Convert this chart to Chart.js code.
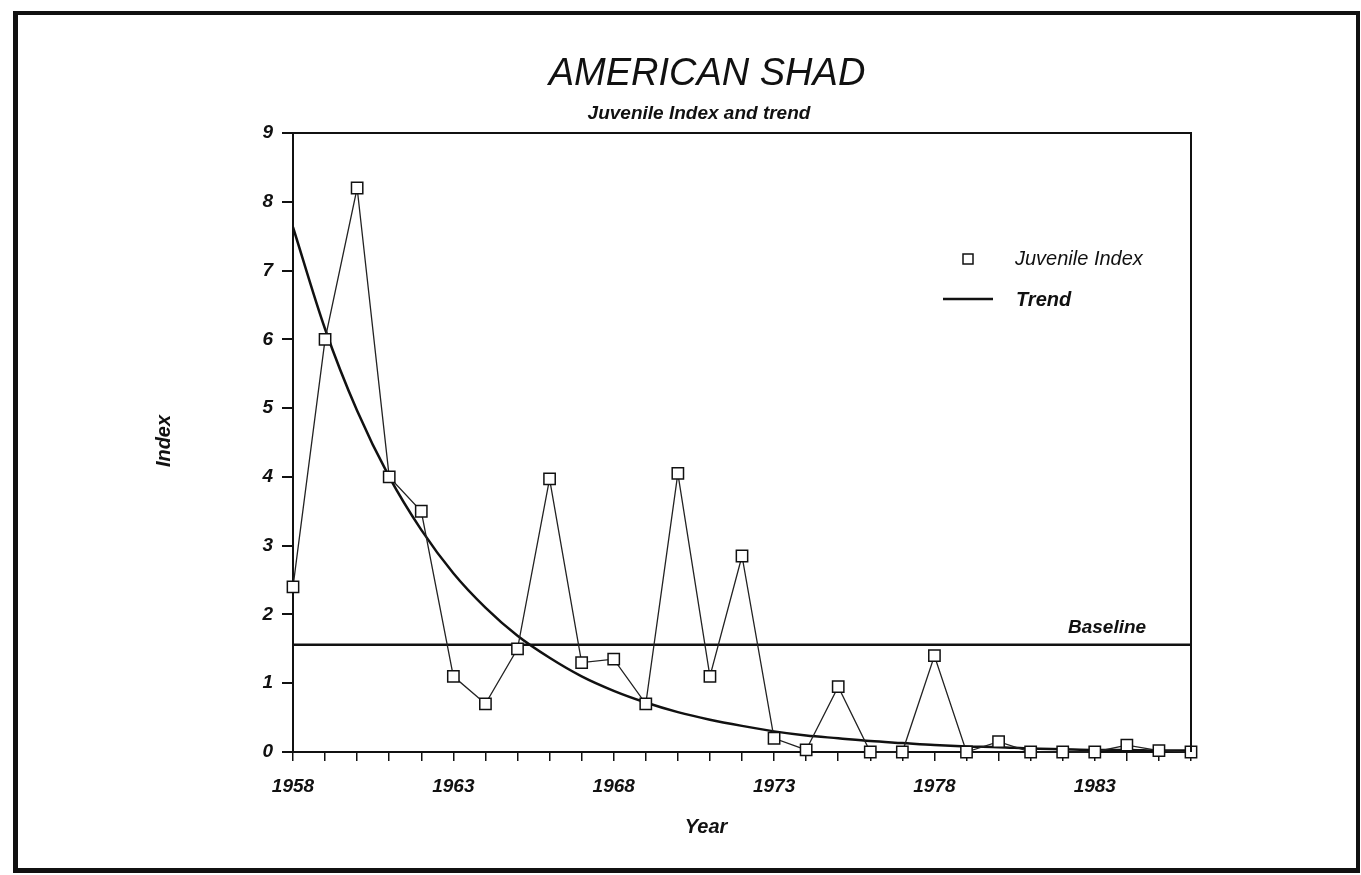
<!DOCTYPE html>
<html>
<head>
<meta charset="utf-8">
<title>American Shad</title>
<script src="https://cdn.jsdelivr.net/npm/chart.js@4.4.0/dist/chart.umd.min.js"></script>
<style>
  html, body { margin: 0; padding: 0; background: #fff; }
  #wrap { position: relative; width: 1361px; height: 875px; }
  #shadChart { display: block; }
  /* 바깥 검은 테두리 */
  #frame {
    position: absolute; left: 13px; top: 11px; width: 1347px; height: 862px;
    box-sizing: border-box; border-style: solid; border-color: #111;
    border-width: 4px 4px 5px 5px; pointer-events: none;
  }
</style>
</head>
<body>
<div id="wrap">
  <canvas id="shadChart" width="1361" height="875"></canvas>
  <div id="frame"></div>
</div>
<script>
// 연도
const years = [1958, 1959, 1960, 1961, 1962, 1963, 1964, 1965, 1966, 1967,
  1968, 1969, 1970, 1971, 1972, 1973, 1974, 1975, 1976, 1977,
  1978, 1979, 1980, 1981, 1982, 1983, 1984, 1985, 1986];
// Juvenile Index 값
const juvenileIndex = [2.4, 6.0, 8.2, 4.0, 3.5, 1.1, 0.7, 1.5, 3.97, 1.3,
  1.35, 0.7, 4.05, 1.1, 2.85, 0.2, 0.03, 0.95, 0, 0,
  1.4, 0, 0.15, 0, 0, 0, 0.1, 0.02, 0];
// Trend 값
const trendValues = [7.63, 6.15, 4.96, 4.0, 3.23, 2.6, 2.1, 1.69, 1.37, 1.1,
  0.89, 0.72, 0.58, 0.47, 0.38, 0.3, 0.24, 0.2, 0.16, 0.13,
  0.1, 0.08, 0.07, 0.05, 0.04, 0.03, 0.03, 0.02, 0.02];
// Baseline
const baselineYears = [1958, 1986];
const baselineValues = [1.56, 1.56];
// 축 눈금
const yTicks = [0, 1, 2, 3, 4, 5, 6, 7, 8, 9];
const xLabelYears = [1958, 1963, 1968, 1973, 1978, 1983];

const fontFamily = "'Liberation Sans', Arial, sans-serif";
Chart.defaults.font.family = fontFamily;
Chart.defaults.color = "#111";

const toPoints = (xs, ys) => xs.map((x, i) => ({ x: x, y: ys[i] }));

// 제목, 축 이름, 범례, Baseline 글자 그리기
const decorPlugin = {
  id: "decor",
  afterDraw(chart) {
    const ctx = chart.ctx;
    const area = chart.chartArea;
    ctx.save();
    // 위쪽, 오른쪽 테두리
    ctx.strokeStyle = "#111";
    ctx.lineWidth = 2;
    ctx.beginPath();
    ctx.moveTo(area.left - 11, area.top);
    ctx.lineTo(area.right, area.top);
    ctx.lineTo(area.right, area.bottom);
    ctx.stroke();

    ctx.fillStyle = "#111";
    ctx.textAlign = "center";
    ctx.textBaseline = "alphabetic";
    ctx.font = `italic 38px ${fontFamily}`;
    ctx.fillText("AMERICAN SHAD", 707, 85);
    ctx.font = `italic bold 19px ${fontFamily}`;
    ctx.fillText("Juvenile Index and trend", 699, 119);

    ctx.font = `italic bold 20px ${fontFamily}`;
    ctx.fillText("Year", 706, 833);
    ctx.save();
    ctx.translate(170, 441);
    ctx.rotate(-Math.PI / 2);
    ctx.fillText("Index", 0, 0);
    ctx.restore();

    // Baseline 글자
    ctx.textAlign = "left";
    ctx.font = `italic bold 19px ${fontFamily}`;
    ctx.fillText("Baseline", 1068, 633);

    // 범례
    ctx.lineWidth = 1.5;
    ctx.fillStyle = "#fff";
    ctx.fillRect(963, 254, 10, 10);
    ctx.strokeRect(963, 254, 10, 10);
    ctx.fillStyle = "#111";
    ctx.font = `italic 20px ${fontFamily}`;
    ctx.fillText("Juvenile Index", 1015, 265);
    ctx.lineWidth = 2.5;
    ctx.beginPath();
    ctx.moveTo(943, 299);
    ctx.lineTo(993, 299);
    ctx.stroke();
    ctx.font = `italic bold 20px ${fontFamily}`;
    ctx.fillText("Trend", 1016, 306);
    ctx.restore();
  },
};

const ctx = document.getElementById("shadChart").getContext("2d");
new Chart(ctx, {
  type: "line",
  data: {
    datasets: [
      {
        label: "Juvenile Index",
        data: toPoints(years, juvenileIndex),
        borderColor: "#222",
        borderWidth: 1.3,
        pointStyle: "rect",
        pointRadius: 8,
        pointBackgroundColor: "#fff",
        pointBorderColor: "#111",
        pointBorderWidth: 1.5,
        tension: 0,
        clip: false,
      },
      {
        label: "Trend",
        data: toPoints(years, trendValues),
        borderColor: "#111",
        borderWidth: 2.5,
        pointRadius: 0,
        cubicInterpolationMode: "monotone",
      },
      {
        label: "Baseline",
        data: toPoints(baselineYears, baselineValues),
        borderColor: "#111",
        borderWidth: 2.5,
        pointRadius: 0,
      },
    ],
  },
  options: {
    responsive: false,
    animation: false,
    layout: { padding: { left: 200, right: 170, top: 133, bottom: 73 } },
    plugins: {
      legend: { display: false },
      title: { display: false },
      tooltip: { enabled: false },
    },
    scales: {
      x: {
        type: "linear",
        min: years[0],
        max: years[years.length - 1],
        afterFit: (axis) => { axis.height = 50; },
        ticks: {
          stepSize: 1,
          maxTicksLimit: 40,
          autoSkip: false,
          maxRotation: 0,
          minRotation: 0,
          padding: 14,
          color: "#111",
          font: { size: 19, style: "italic", weight: "bold" },
          callback: (value) => (xLabelYears.includes(value) ? String(value) : ""),
        },
        grid: { drawOnChartArea: false, tickLength: 9, color: "#111", lineWidth: 1.5 },
        border: { color: "#111", width: 2 },
      },
      y: {
        min: yTicks[0],
        max: yTicks[yTicks.length - 1],
        afterFit: (axis) => { axis.width = 93; },
        ticks: {
          stepSize: 1,
          padding: 9,
          color: "#111",
          font: { size: 19, style: "italic", weight: "bold" },
          callback: (value) => (yTicks.includes(value) ? String(value) : ""),
        },
        grid: { drawOnChartArea: false, tickLength: 11, color: "#111", lineWidth: 2 },
        border: { color: "#111", width: 2 },
      },
    },
  },
  plugins: [decorPlugin],
});
</script>
</body>
</html>
